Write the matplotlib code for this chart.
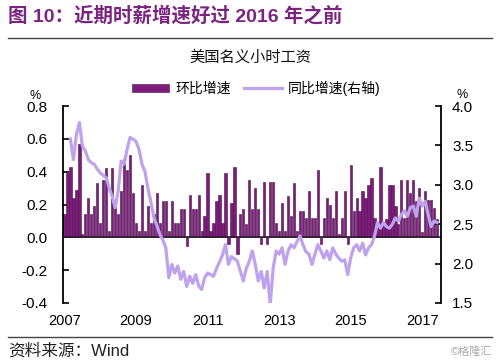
import numpy as np
import matplotlib
matplotlib.use("Agg")
import matplotlib.pyplot as plt
from matplotlib.patches import Patch
from matplotlib.lines import Line2D

plt.rcParams['font.family'] = ['Liberation Sans', 'Noto Sans CJK SC', 'DejaVu Sans']

# 环比增速 (左轴, %)，2007-01 起每月
mom = [0.14, 0.39, 0.43, 0.24, 0.29, 0.57, 0.02, 0.14, 0.24, 0.14,
       0.19, 0.33, 0.09, 0.35, 0.42, 0.04, 0.42, 0.20, 0.14, 0.28,
       0.48, 0.41, 0.50, 0.27, 0.09, 0.04, 0.32, 0.04, 0.19, 0.09,
       0.14, 0.27, 0.09, 0.22, 0.22, 0.04, 0.22, 0.09, 0.09, 0.17,
       0.17, -0.05, 0.26, 0.17, 0.17, 0.26, 0.04, 0.13, 0.39, 0.04,
       0.09, 0.22, 0.26, 0.09, 0.39, -0.04, 0.21, 0.43, -0.10, 0.14,
       0.17, 0.08, 0.35, 0.17, 0.30, 0.17, -0.04, 0.34, -0.04, 0.34,
       0.34, 0.09, 0.04, 0.21, 0.04, 0.25, 0.13, 0.33, 0.04, 0.16,
       0.16, 0.12, 0.28, 0.12, 0.12, 0.41, -0.04, 0.12, 0.24, 0.20,
       0.12, 0.28, 0.02, 0.12, 0.28, -0.04, 0.44, 0.16, 0.24, 0.16,
       0.28, 0.24, 0.32, 0.36, 0.12, 0.06, 0.43, 0.09, 0.11, 0.32,
       0.32, 0.19, 0.08, 0.35, 0.12, 0.35, 0.27, 0.35, 0.22, 0.30,
       0.03, 0.28, 0.23, 0.23, 0.18, 0.11]

# 同比增速 (右轴, %)
yoy = [None, None, 3.58, 3.32, 3.64, 3.79, 3.49, 3.43, 3.32, 3.28,
       3.26, 3.20, 3.15, 3.12, 3.09, 2.96, 2.85, 2.71, 2.92, 3.30,
       3.26, 3.45, 3.60, 3.58, 3.55, 3.45, 3.26, 3.17, 2.95, 2.78,
       2.58, 2.48, 2.37, 2.30, 2.20, 1.82, 1.99, 1.88, 1.97, 1.80,
       1.90, 1.71, 1.84, 1.75, 1.86, 1.72, 1.67, 1.82, 1.88, 1.86,
       1.84, 1.94, 2.02, 2.11, 2.24, 1.99, 2.09, 2.06, 2.03, 1.90,
       1.78, 1.94, 2.03, 2.16, 1.99, 1.78, 1.90, 1.69, 1.90, 1.48,
       1.94, 2.16, 2.12, 2.20, 1.99, 2.16, 2.24, 2.20, 2.28, 2.35,
       2.24, 2.15, 2.12, 1.99, 2.12, 2.24, 2.16, 2.07, 2.16, 2.05,
       2.20, 2.12, 2.07, 2.03, 2.05, 1.86, 2.07, 2.20, 2.24, 2.16,
       2.26, 2.11, 2.20, 2.24, 2.35, 2.52, 2.45, 2.52, 2.47, 2.45,
       2.50, 2.58, 2.54, 2.62, 2.67, 2.60, 2.71, 2.73, 2.60, 2.83,
       2.73, 2.79, 2.62, 2.47, 2.54, 2.52]

year_labels = ['2007', '2009', '2011', '2013', '2015', '2017']
left_ticks = [-0.4, -0.2, 0.0, 0.2, 0.4, 0.6, 0.8]
right_ticks = [1.5, 2.0, 2.5, 3.0, 3.5, 4.0]

bar_color = '#7E1C7C'
line_color = '#BFA2EE'
title_color = '#7B2380'

W, H = 500, 363
fig = plt.figure(figsize=(5, 3.63), dpi=100)

def fx(px):
    return px / W

def fy(py):
    return 1 - py / H

# 绘图区
ax = fig.add_axes([fx(63), fy(303), fx(441) - fx(63), fy(106) - fy(303)])
months = np.arange(len(mom))
ax.bar(months, mom, width=0.75, color=bar_color, edgecolor='#4A0D4A', linewidth=0.4, zorder=2)
ax.axhline(0, color='#2a1a2a', linewidth=1.2, zorder=3)
ax.set_ylim(-0.4, 0.8)
ax.set_xlim(-0.5, 126.3)
ax.set_yticks(left_ticks)
ax.set_yticklabels(['%.1f' % v for v in left_ticks], fontsize=11)
ax.set_xticks(np.arange(0, 121, 24))
ax.set_xticklabels(year_labels, fontsize=10.5)
ax.tick_params(axis='x', length=0, pad=8)
ax.tick_params(axis='y', direction='in', length=4, width=1.2, pad=11)
for s in ['top', 'bottom', 'right']:
    ax.spines[s].set_visible(False)
ax.spines['left'].set_linewidth(1.3)

ax2 = ax.twinx()
yoy_arr = np.array([np.nan if v is None else v for v in yoy])
ax2.plot(months, yoy_arr, color=line_color, linewidth=2.3, zorder=4)
ax2.set_ylim(1.5, 4.0)
ax2.set_yticks(right_ticks)
ax2.set_yticklabels(['%.1f' % v for v in right_ticks], fontsize=11)
ax2.tick_params(axis='y', direction='in', length=4, width=1.2, pad=8)
for s in ['top', 'bottom', 'left']:
    ax2.spines[s].set_visible(False)
ax2.spines['right'].set_linewidth(1.3)

fig.text(fx(35), fy(96), '%', fontsize=9, ha='center', va='center')
fig.text(fx(462), fy(95), '%', fontsize=9, ha='center', va='center')

# 图例
handles = [Patch(facecolor=bar_color, edgecolor='#4A0D4A', linewidth=0.4),
           Line2D([0], [0], color=line_color, linewidth=2.3)]
fig.legend(handles, ['环比增速', '同比增速(右轴)'], loc='center', ncol=2,
           bbox_to_anchor=(fx(256), fy(88)), frameon=False, fontsize=10,
           handlelength=2.7, handleheight=0.55, columnspacing=1.0, handletextpad=0.4)

# 标题与来源
fig.text(fx(8), fy(16), '图 10：近期时薪增速好过 2016 年之前', fontsize=14,
         fontweight='bold', color=title_color, ha='left', va='center')
fig.add_artist(Line2D([fx(8), fx(492)], [fy(38), fy(38)], color='#444444', linewidth=1.0))
fig.text(fx(250), fy(58), '美国名义小时工资', fontsize=11, ha='center', va='center', color='#111111')
fig.add_artist(Line2D([fx(8), fx(492)], [fy(337), fy(337)], color='#444444', linewidth=1.0))
fig.text(fx(8), fy(351), '资料来源：Wind', fontsize=12, ha='left', va='center', color='#222222')
fig.text(fx(492), fy(352), '©格隆汇', fontsize=8, ha='right', va='center', color='#aaaaaa')

fig.savefig('out.png', dpi=100)
